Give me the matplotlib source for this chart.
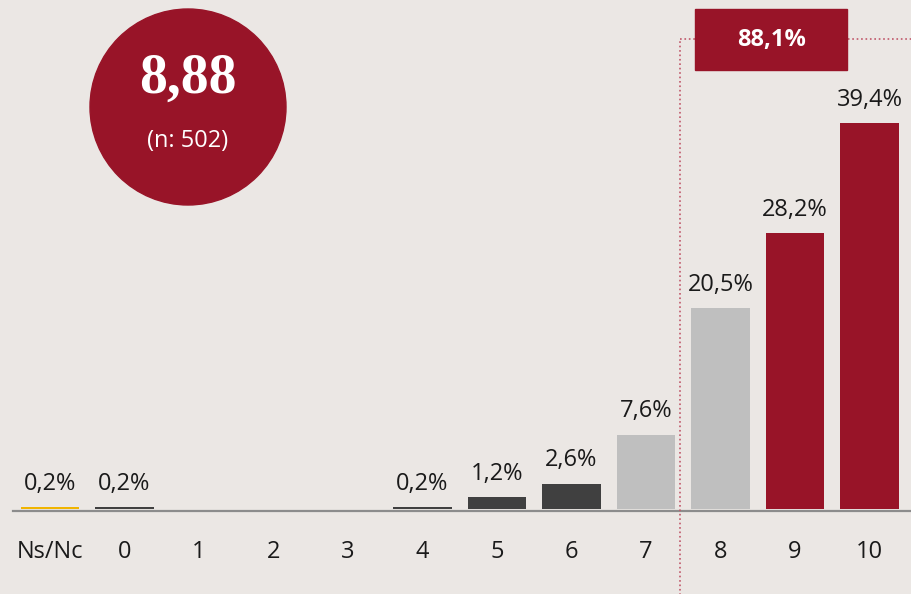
import matplotlib.pyplot as plt
from matplotlib.patches import Circle, Rectangle

# data
categories = ['Ns/Nc', '0', '1', '2', '3', '4', '5', '6', '7', '8', '9', '10']
values = [0.2, 0.2, 0, 0, 0, 0.2, 1.2, 2.6, 7.6, 20.5, 28.2, 39.4]
labels = ['0,2%', '0,2%', '', '', '', '0,2%', '1,2%', '2,6%', '7,6%', '20,5%', '28,2%', '39,4%']
mean_text = '8,88'
n_text = '(n: 502)'
top_share = '88,1%'

bg = '#ebe7e4'
red = '#981428'
dark = '#404040'
light = '#bfbfbf'
yellow = '#f0b400'
colors = [yellow, dark, dark, dark, dark, dark, dark, dark, light, light, red, red]

plt.rcParams['font.family'] = ['Open Sans', 'DejaVu Sans']

fig = plt.figure(figsize=(9.12, 5.94), dpi=100, facecolor=bg)
ax = fig.add_axes([0, 0, 1, 1])
ax.set_facecolor(bg)

x = list(range(len(categories)))
ax.bar(x, values, width=0.78, color=colors, zorder=2)
for xi, v, lab in zip(x, values, labels):
    if lab:
        ax.annotate(lab, (xi, v), xytext=(0, 8), textcoords='offset points',
                    ha='center', va='bottom', fontsize=17, color='#1a1a1a')

ax.axhline(-0.16, xmin=0.014, color='#8c8c8c', lw=1.6, zorder=1)
ax.set_xlim(-0.671, 11.57)
ax.set_ylim(-8.67, 51.94)
for xi, c in zip(x, categories):
    ax.text(xi, -4.4, c, ha='center', va='center', fontsize=17, color='#1a1a1a')
ax.axis('off')

# dotted frame for top values
ax.plot([8.456, 8.456], [-9, 47.96], ls=':', color='#c0586a', lw=1.2, zorder=1)
ax.plot([8.456, 12], [47.96, 47.96], ls=':', color='#c0586a', lw=1.2, zorder=1)
ax.add_patch(Rectangle((8.658, 44.8), 2.04, 6.22, color=red, zorder=4))
ax.text(9.68, 47.9, top_share, ha='center', va='center', fontsize=17,
        fontweight='bold', color='white', zorder=5)

# circle with mean
circ = Circle((1.88, 4.87), 0.98, transform=fig.dpi_scale_trans, color=red, zorder=4)
fig.add_artist(circ)
fig.text(1.88 / 9.12, (594 - 79) / 594, mean_text, ha='center', va='center',
         fontsize=40, fontweight='bold', family='Liberation Serif', color='white', zorder=6)
fig.text(1.88 / 9.12, (594 - 141) / 594, n_text, ha='center', va='center',
         fontsize=17, color='white', zorder=6)

fig.savefig('out.png', dpi=100, facecolor=bg)
